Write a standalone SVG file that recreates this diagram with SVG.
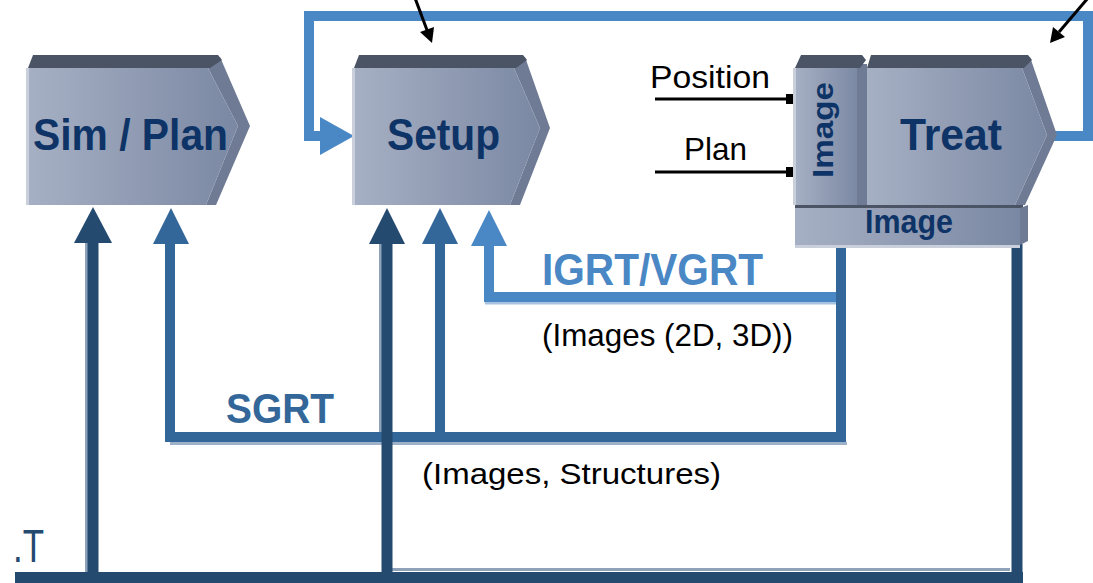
<svg xmlns="http://www.w3.org/2000/svg" width="1093" height="583" viewBox="0 0 1093 583">
<defs>
<linearGradient id="boxGrad" x1="0" y1="0" x2="1" y2="0">
<stop offset="0" stop-color="#a6b0c4"/>
<stop offset="1" stop-color="#7b88a3"/>
</linearGradient>
<style>
.body{fill:url(#boxGrad);}
.band{fill:#4b5465;}
.strip{fill:#6f7b94;}
.edge{fill:#c9d0dc;}
.lbl{font-family:"Liberation Sans",Arial,sans-serif;font-weight:bold;fill:#0e3366;}
.txt{font-family:"Liberation Sans",Arial,sans-serif;fill:#000;}
.dark{stroke:#254a70;fill:none;stroke-width:11;}
.med{stroke:#346799;fill:none;stroke-width:10;}
.light{stroke:#4a87c5;fill:none;stroke-width:10;}
.hdark{fill:#254a70;}
.hmed{fill:#346799;}
.hlight{fill:#4a87c5;}
.blk{stroke:#000;stroke-width:3;fill:none;}
.shade{stroke:#8ea3ba;stroke-width:3;fill:none;}
</style>
</defs>
<rect width="1093" height="583" fill="#fff"/>

<g id="connectors">
<!-- top feedback loop -->
<path class="light" stroke-width="12" d="M1050,136 H1088 V16 H309 V136 H324"/>
<polygon class="hlight" points="354,136 320,117 320,155"/>
<!-- SGRT -->
<line x1="170" y1="443.5" x2="847" y2="443.5" stroke="#9db2c8" stroke-width="3"/>
<path class="med" d="M170,240 V437 H841 V244"/>
<path class="med" d="M440,437 V240"/>
<polygon class="hmed" points="171,208 153,244 189,244"/>
<polygon class="hmed" points="440,208 422,244 458,244"/>
<!-- IGRT/VGRT -->
<line x1="485" y1="303" x2="836" y2="303" stroke="#a7c3e0" stroke-width="3"/>
<path class="light" d="M489,240 V297 H836"/>
<polygon class="hlight" points="489,210 471,246 507,246"/>
<!-- dark lines -->
<line class="shade" x1="392" y1="569.5" x2="1010" y2="569.5"/>
<line class="shade" x1="86.5" y1="243" x2="86.5" y2="572"/>
<line class="shade" x1="380.5" y1="244" x2="380.5" y2="432"/>
<path class="dark" d="M15,577.5 H1023"/>
<path class="dark" d="M93,583 V240"/>
<path class="dark" d="M387,583 V240"/>
<path class="dark" d="M1017,244 V583"/>
<polygon class="hdark" points="93,207 74,243 112,243"/>
<polygon class="hdark" points="387,208 369,244 405,244"/>
<!-- black input arrows -->
<line class="blk" x1="415" y1="-2" x2="427" y2="30"/>
<polygon fill="#000" points="432,43 420,32 434,27"/>
<line class="blk" x1="1088" y1="-2" x2="1059" y2="32"/>
<polygon fill="#000" points="1050,43 1053,27 1065,37"/>
<line class="blk" x1="655" y1="99" x2="790" y2="99"/>
<rect x="786" y="94" width="8" height="10" fill="#000"/>
<line class="blk" x1="655" y1="172" x2="790" y2="172"/>
<rect x="786" y="167" width="8" height="10" fill="#000"/>
</g>

<g id="sim-plan">
<polygon class="strip" points="220,57 250,126 216,205 206,205 238,126 208,68"/>
<polygon class="body" points="28,68 208,68 238,126 206,205 28,205"/>
<polygon class="band" points="28,68 33,55 218,55 222,60 210,68"/>
<rect class="edge" x="26" y="68" width="3" height="137"/>
<text class="lbl" x="33" y="150" font-size="44" textLength="195" lengthAdjust="spacingAndGlyphs">Sim / Plan</text>
</g>

<g id="setup">
<polygon class="strip" points="525,57 550,128 520,205 510,205 540,128 514,68"/>
<polygon class="body" points="354,68 514,68 540,128 510,205 354,205"/>
<polygon class="band" points="354,68 359,55 523,55 527,60 516,68"/>
<rect class="edge" x="352" y="68" width="3" height="137"/>
<text class="lbl" x="387" y="150" font-size="44" textLength="113" lengthAdjust="spacingAndGlyphs">Setup</text>
</g>

<g id="treat">
<!-- side image panel -->
<rect class="body" x="795" y="68" width="64" height="137"/>
<rect class="strip" x="857" y="64" width="10" height="141"/>
<polygon class="band" points="795,68 801,55 862,55 866,60 860,68"/>
<rect class="edge" x="793" y="68" width="3" height="137"/>
<text class="lbl" x="833" y="130" font-size="29" text-anchor="middle" textLength="96" lengthAdjust="spacingAndGlyphs" transform="rotate(-90 833 130)">Image</text>
<!-- treat body -->
<polygon class="strip" points="1030,57 1057,135 1025,205 1015,205 1047,135 1022,68"/>
<polygon class="body" points="867,68 1022,68 1047,135 1015,205 867,205"/>
<polygon class="band" points="867,68 871,55 1028,55 1032,60 1024,68"/>
<text class="lbl" x="900" y="150" font-size="44" textLength="102" lengthAdjust="spacingAndGlyphs">Treat</text>
<!-- bottom image bar -->
<rect x="795" y="205" width="228" height="3" fill="#4b5465"/>
<rect class="body" x="795" y="208" width="225" height="37"/>
<polygon class="strip" points="1020,208 1028,205 1028,241 1020,245"/>
<rect class="edge" x="795" y="245" width="225" height="3"/>
<text class="lbl" x="865" y="233" font-size="34" textLength="88" lengthAdjust="spacingAndGlyphs">Image</text>
</g>

<g id="labels">
<text class="txt" x="650" y="88" font-size="32" textLength="120" lengthAdjust="spacingAndGlyphs">Position</text>
<text class="txt" x="684" y="160" font-size="32" textLength="63" lengthAdjust="spacingAndGlyphs">Plan</text>
<text x="542" y="285" font-family="Liberation Sans, Arial, sans-serif" font-weight="bold" font-size="44" fill="#4a87c5" textLength="221" lengthAdjust="spacingAndGlyphs">IGRT/VGRT</text>
<text class="txt" x="542" y="346" font-size="32" textLength="251" lengthAdjust="spacingAndGlyphs">(Images (2D, 3D))</text>
<text x="226" y="423" font-family="Liberation Sans, Arial, sans-serif" font-weight="bold" font-size="42" fill="#346799" textLength="108" lengthAdjust="spacingAndGlyphs">SGRT</text>
<text class="txt" x="422" y="484" font-size="30" textLength="299" lengthAdjust="spacingAndGlyphs">(Images, Structures)</text>
<text x="13" y="562" font-family="Liberation Sans, Arial, sans-serif" font-size="46" fill="#254a70" textLength="31" lengthAdjust="spacingAndGlyphs">.T</text>
</g>
</svg>
